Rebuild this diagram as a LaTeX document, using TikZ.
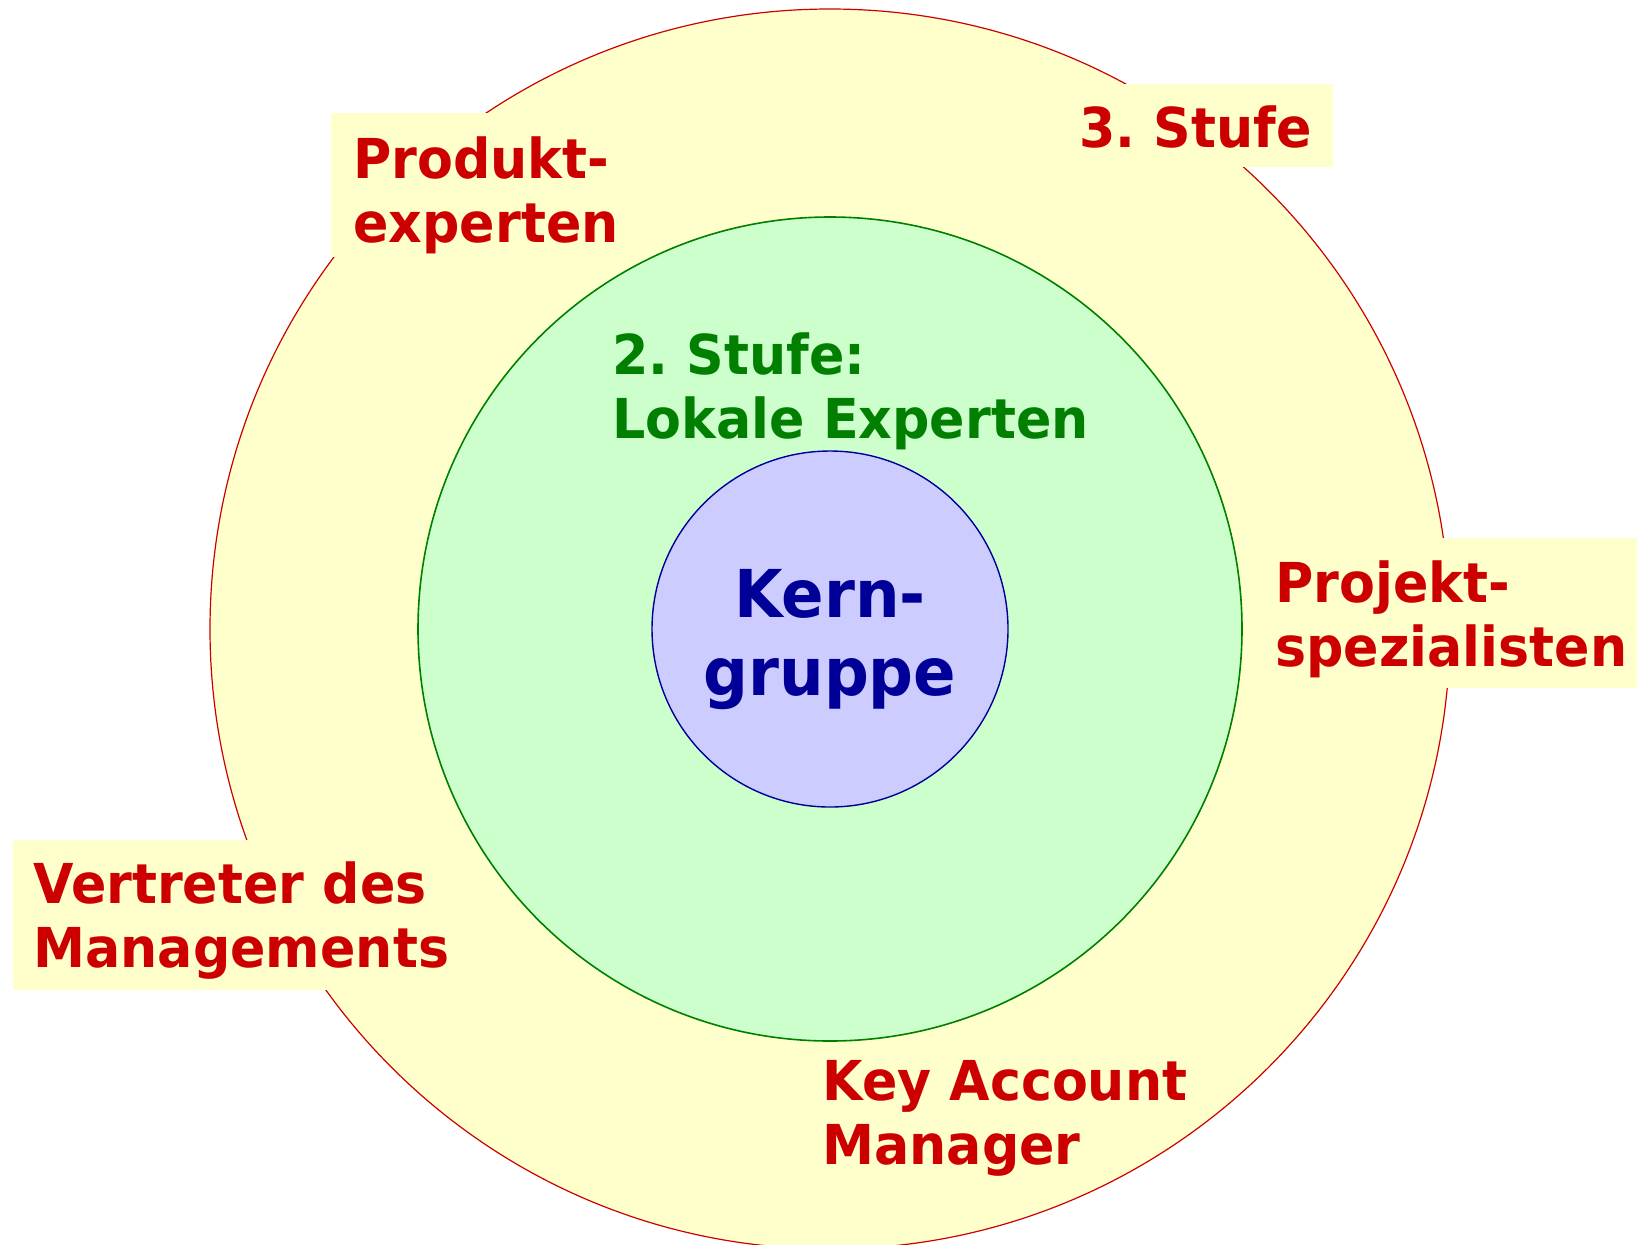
\documentclass[tikz,border=0pt]{standalone}
\usepackage{fontspec}
\setmainfont{DejaVu Sans}[FakeStretch=0.95]
\frenchspacing
\definecolor{outerfill}{HTML}{FFFFCC}
\definecolor{outerline}{HTML}{CC0000}
\definecolor{midfill}{HTML}{CCFFCC}
\definecolor{midline}{HTML}{008000}
\definecolor{innerfill}{HTML}{CCCCFF}
\definecolor{innerline}{HTML}{000099}
\definecolor{labred}{HTML}{CC0000}
\definecolor{labgreen}{HTML}{007F00}
\tikzset{
  lab/.style={anchor=base west, inner sep=0pt, font=\bfseries\fontsize{27.5}{32}\selectfont, text=labred},
  labg/.style={lab, text=labgreen},
  kern/.style={anchor=base, inner sep=0pt, font=\bfseries\fontsize{33}{39}\selectfont, text=innerline},
  labbox/.style={fill=outerfill, draw=none}
}
\begin{document}
\begin{tikzpicture}[x=0.5pt, y=-0.5pt]
\useasboundingbox (0,0) rectangle (1637,1244);
\clip (0,0) rectangle (1637,1244);
\filldraw[fill=outerfill, draw=outerline, line width=0.6pt] (830,629) circle [radius=620];
\filldraw[fill=midfill, draw=midline, line width=0.8pt] (830,629) circle [radius=412];
\filldraw[fill=innerfill, draw=innerline, line width=0.7pt] (830,629) circle [radius=178];
% label backgrounds
\fill[labbox] (331,113) rectangle (630,257);
\fill[labbox] (1068,84) rectangle (1333,167);
\fill[labbox] (1257,538) rectangle (1637,688);
\fill[labbox] (13,840) rectangle (461,990);
% labels
\node[lab] (prod1) at (353,178) {Produkt-};
\node[lab] (prod2) at (353,242) {experten};
\node[lab] (stufe3) at (1079,147) {3. Stufe};
\node[lab] (proj1) at (1275,602) {Projekt-};
\node[lab] (proj2) at (1275,666) {spezialisten};
\node[lab] (vert1) at (33,903) {Vertreter des};
\node[lab] (vert2) at (33,967) {Managements};
\node[lab] (key1) at (822,1100) {Key Account};
\node[lab] (key2) at (822,1164) {Manager};
\node[labg] (st2a) at (612,374) {2. Stufe:};
\node[labg] (st2b) at (612,438) {Lokale Experten};
\node[kern] (kern1) at (830,617) {Kern-};
\node[kern] (kern2) at (830,695) {gruppe};
\end{tikzpicture}
\end{document}
